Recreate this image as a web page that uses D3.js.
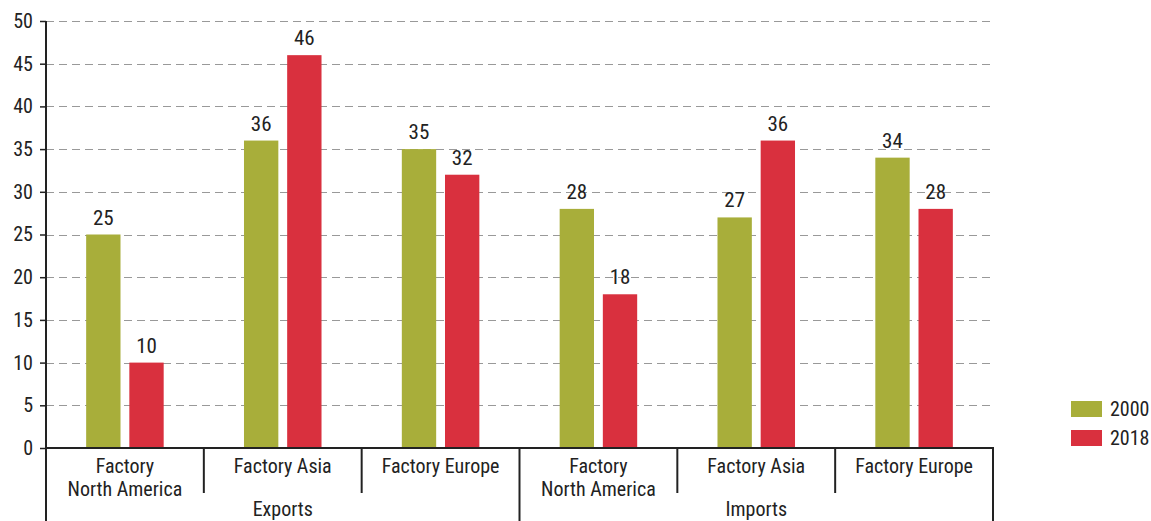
<!DOCTYPE html>
<html>
<head>
<meta charset="utf-8">
<script src="https://cdn.jsdelivr.net/npm/d3@7"></script>
<style>
  html, body { margin: 0; padding: 0; background: #fff; }
  svg { display: block; }
  text { font-family: "Liberation Sans Narrow", "Roboto Condensed", "DejaVu Sans Condensed", sans-serif; fill: #222; }
</style>
</head>
<body>
<svg id="chart" width="1151" height="521"></svg>
<script>
// Trade shares by regional production network, 2000 vs 2018
const flowGroups = ["Exports", "Imports"];
const regionLabels = [["Factory", "North America"], ["Factory Asia"], ["Factory Europe"]];
const seriesNames = ["2000", "2018"];
const values2000 = [25, 36, 35, 28, 27, 34];
const values2018 = [10, 46, 32, 18, 36, 28];
const yTickValues = [0, 5, 10, 15, 20, 25, 30, 35, 40, 45, 50];
const seriesColors = ["#a8ae3a", "#d9303e"];

// One row per bar cluster: group x region
const rows = [];
flowGroups.forEach((g, gi) => {
  regionLabels.forEach((r, ri) => {
    const i = gi * regionLabels.length + ri;
    rows.push({ key: i, group: g, lines: r, values: [values2000[i], values2018[i]] });
  });
});

const svg = d3.select("#chart");
const plotLeft = 46, plotRight = 993, plotTop = 21, plotBottom = 448, svgBottom = 521;
const fontStack = "\"Liberation Sans Narrow\", \"Roboto Condensed\", \"DejaVu Sans Condensed\", sans-serif";

const x0 = d3.scaleBand().domain(rows.map(d => d.key)).range([plotLeft, plotRight]).padding(0);
const x1 = d3.scaleBand().domain(seriesNames).range([0, x0.bandwidth()])
  .paddingInner(0.2045).paddingOuter(0.93);
const y = d3.scaleLinear().domain([0, 50]).range([plotBottom, plotTop]);

// dashed horizontal grid
svg.append("g")
  .selectAll("line")
  .data(yTickValues.filter(v => v > 0))
  .join("line")
  .attr("x1", plotLeft).attr("x2", plotRight)
  .attr("y1", d => Math.round(y(d)) + 0.5).attr("y2", d => Math.round(y(d)) + 0.5)
  .attr("stroke", "#999").attr("stroke-width", 1.2)
  .attr("stroke-dasharray", "8,5");

// bars
const cluster = svg.append("g").selectAll("g")
  .data(rows).join("g")
  .attr("transform", d => `translate(${x0(d.key)},0)`);

cluster.selectAll("rect")
  .data(d => d.values.map((v, i) => ({ s: seriesNames[i], v, i })))
  .join("rect")
  .attr("x", d => x1(d.s))
  .attr("width", x1.bandwidth())
  .attr("y", d => y(d.v))
  .attr("height", d => y(0) - y(d.v))
  .attr("fill", d => seriesColors[d.i]);

cluster.selectAll("text.val")
  .data(d => d.values.map((v, i) => ({ s: seriesNames[i], v, i })))
  .join("text")
  .attr("class", "val")
  .attr("x", d => x1(d.s) + x1.bandwidth() / 2)
  .attr("y", d => y(d.v) - 10)
  .attr("text-anchor", "middle")
  .attr("font-size", 21)
  .text(d => d3.format("d")(d.v));

// y axis
const yAxis = svg.append("g")
  .attr("transform", `translate(${plotLeft},0)`)
  .call(d3.axisLeft(y).tickValues(yTickValues).tickSize(6).tickPadding(7).tickFormat(d3.format("d")));
yAxis.select(".domain").remove();
yAxis.selectAll(".tick line").attr("stroke", "#222").attr("stroke-width", 1.5);
yAxis.selectAll(".tick text").attr("font-size", 20).attr("fill", "#222")
  .style("font-family", fontStack);

// axis lines and category dividers
const axisG = svg.append("g").attr("stroke", "#222").attr("stroke-width", 2);
axisG.append("line").attr("x1", plotLeft).attr("x2", plotLeft).attr("y1", plotTop).attr("y2", svgBottom);
axisG.append("line").attr("x1", plotLeft).attr("x2", plotRight + 1).attr("y1", plotBottom).attr("y2", plotBottom);

const boundaries = rows.map(d => d.key).concat([rows.length]);
axisG.selectAll("line.div")
  .data(boundaries.filter(b => b > 0))
  .join("line")
  .attr("class", "div")
  .attr("x1", b => b < rows.length ? x0(b) : plotRight)
  .attr("x2", b => b < rows.length ? x0(b) : plotRight)
  .attr("y1", plotBottom)
  .attr("y2", b => (b % regionLabels.length === 0) ? svgBottom : 493);

// region labels, one text per line
const regionG = svg.append("g").selectAll("g")
  .data(rows).join("g");
regionG.selectAll("text")
  .data(d => d.lines.map((t, i) => ({ t, i, x: x0(d.key) + x0.bandwidth() / 2 })))
  .join("text")
  .attr("text-anchor", "middle")
  .attr("font-size", 20)
  .attr("x", d => d.x)
  .attr("y", d => 473 + d.i * 22.5)
  .text(d => d.t);

// flow group labels
svg.append("g").selectAll("text")
  .data(flowGroups).join("text")
  .attr("text-anchor", "middle")
  .attr("font-size", 20)
  .attr("x", (g, gi) => {
    const a = x0(gi * regionLabels.length);
    const nextIdx = (gi + 1) * regionLabels.length;
    const b = nextIdx < rows.length ? x0(nextIdx) : plotRight;
    return (a + b) / 2;
  })
  .attr("y", 516)
  .text(d => d);

// legend
const legend = svg.append("g").attr("transform", "translate(1071,401)");
const item = legend.selectAll("g").data(seriesNames).join("g")
  .attr("transform", (d, i) => `translate(0,${i * 29})`);
item.append("rect").attr("width", 31).attr("height", 16).attr("fill", (d, i) => seriesColors[i]);
item.append("text").attr("x", 39).attr("y", 15).attr("font-size", 20).text(d => d);
</script>
</body>
</html>
